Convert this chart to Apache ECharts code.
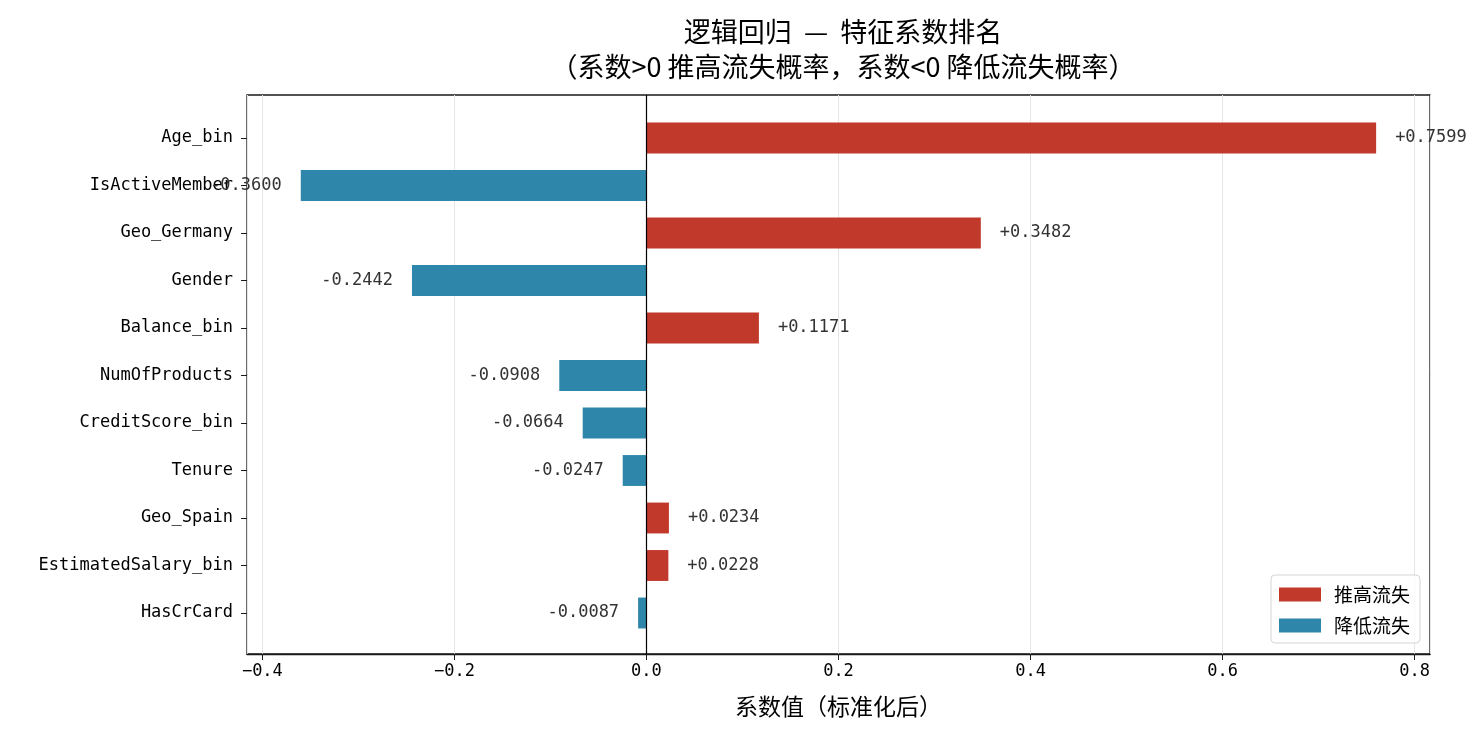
<!DOCTYPE html>
<html>
<head>
<meta charset="utf-8">
<script src="https://cdn.jsdelivr.net/npm/echarts@6/dist/echarts.min.js"></script>
<style>
    html, body { margin: 0; padding: 0; background: #fff; }
    #main { width: 1483px; height: 733px; }
</style>
</head>
<body>
<div id="main"></div>
<script>
    // 特征 & 系数 (从上到下)
    var features = ['Age_bin', 'IsActiveMember', 'Geo_Germany', 'Gender', 'Balance_bin',
        'NumOfProducts', 'CreditScore_bin', 'Tenure', 'Geo_Spain', 'EstimatedSalary_bin', 'HasCrCard'];
    var coefs = [0.7599, -0.3600, 0.3482, -0.2442, 0.1171, -0.0908, -0.0664, -0.0247, 0.0234, 0.0228, -0.0087];
    var xTicks = [-0.4, -0.2, 0.0, 0.2, 0.4, 0.6, 0.8];

    var posVals = coefs.map(function (v) { return v > 0 ? v : null; });
    var negVals = coefs.map(function (v) { return v < 0 ? v : null; });

    var FONT = "'DejaVu Sans Mono', 'Noto Sans CJK SC', monospace";
    var CJK = "'Noto Sans CJK SC', sans-serif";
    var xMin = -0.416, xMax = 0.816;

    function fmtVal(p) {
        var v = p.value;
        return (v >= 0 ? '+' : '-') + Math.abs(v).toFixed(4);
    }

    var myChart = echarts.init(document.getElementById('main'));
    var option = {
        animation: false,
        title: {
            text: '逻辑回归  —  特征系数排名\n（系数>0 推高流失概率，系数<0 降低流失概率）',
            left: 838, top: 9, textAlign: 'center',
            textStyle: { fontFamily: CJK, fontSize: 27, fontWeight: 'normal', color: '#000', lineHeight: 35 }
        },
        legend: {
            orient: 'vertical', right: 63, bottom: 90,
            icon: 'rect', itemWidth: 42, itemHeight: 14, itemGap: 12,
            padding: [10, 10, 8, 8],
            backgroundColor: 'rgba(255,255,255,0.8)', borderColor: '#d5d5d5', borderWidth: 1, borderRadius: 4,
            textStyle: { fontFamily: CJK, fontSize: 19, color: '#000', padding: [0, 0, 0, 8] },
            data: ['推高流失', '降低流失']
        },
        grid: [
            { left: 247, right: 53, top: 114.25, bottom: 96.25 },
            { left: 247, right: 53, top: 95, bottom: 79, show: true, borderColor: '#1a1a1a', borderWidth: 1.3, backgroundColor: 'transparent' }
        ],
        xAxis: [
            { gridIndex: 0, type: 'value', min: xMin, max: xMax, show: false },
            {
                gridIndex: 1, type: 'value', min: xMin, max: xMax, splitNumber: 6,
                name: '系数值（标准化后）', nameLocation: 'middle', nameGap: 41,
                nameTextStyle: { fontFamily: CJK, fontSize: 23, color: '#000' },
                axisLine: { show: true, lineStyle: { color: '#1a1a1a', width: 1.3 } },
                axisTick: { show: true, length: 6, lineStyle: { color: '#1a1a1a' } },
                axisLabel: {
                    fontFamily: FONT, fontSize: 17, color: '#000', margin: 9,
                    showMinLabel: false, showMaxLabel: false,
                    formatter: function (v) {
                        var near = xTicks.some(function (t) { return Math.abs(t - v) < 1e-6; });
                        if (!near) return '';
                        return (v < 0 ? '\u2212' : '') + Math.abs(v).toFixed(1);
                    }
                },
                splitLine: { show: true, lineStyle: { color: '#e6e6e6', width: 1 } }
            }
        ],
        yAxis: [
            {
                gridIndex: 0, type: 'category', data: features, inverse: true,
                axisLine: { show: false, onZero: false },
                axisTick: { show: true, alignWithLabel: true, length: 6, lineStyle: { color: '#1a1a1a' } },
                axisLabel: { fontFamily: FONT, fontSize: 17, color: '#000', margin: 14 }
            },
            { gridIndex: 1, type: 'value', min: 0, max: 1, show: false }
        ],
        series: [
            {
                name: '推高流失', type: 'bar', xAxisIndex: 0, yAxisIndex: 0, stack: 'c',
                data: posVals, barWidth: '65%',
                itemStyle: { color: '#c0392b' },
                label: { show: true, position: 'right', distance: 19, formatter: fmtVal,
                    fontFamily: FONT, fontSize: 17, color: '#333' }
            },
            {
                name: '降低流失', type: 'bar', xAxisIndex: 0, yAxisIndex: 0, stack: 'c',
                data: negVals, barWidth: '65%',
                itemStyle: { color: '#2e86ab' },
                label: { show: true, position: 'left', distance: 19, formatter: fmtVal,
                    fontFamily: FONT, fontSize: 17, color: '#333' }
            },
            {
                name: 'zero', type: 'line', xAxisIndex: 1, yAxisIndex: 1, data: [],
                markLine: {
                    silent: true, symbol: 'none', label: { show: false },
                    lineStyle: { color: '#000', width: 1.2, type: 'solid' },
                    data: [{ xAxis: 0 }]
                }
            }
        ]
    };
    myChart.setOption(option);
</script>
</body>
</html>
